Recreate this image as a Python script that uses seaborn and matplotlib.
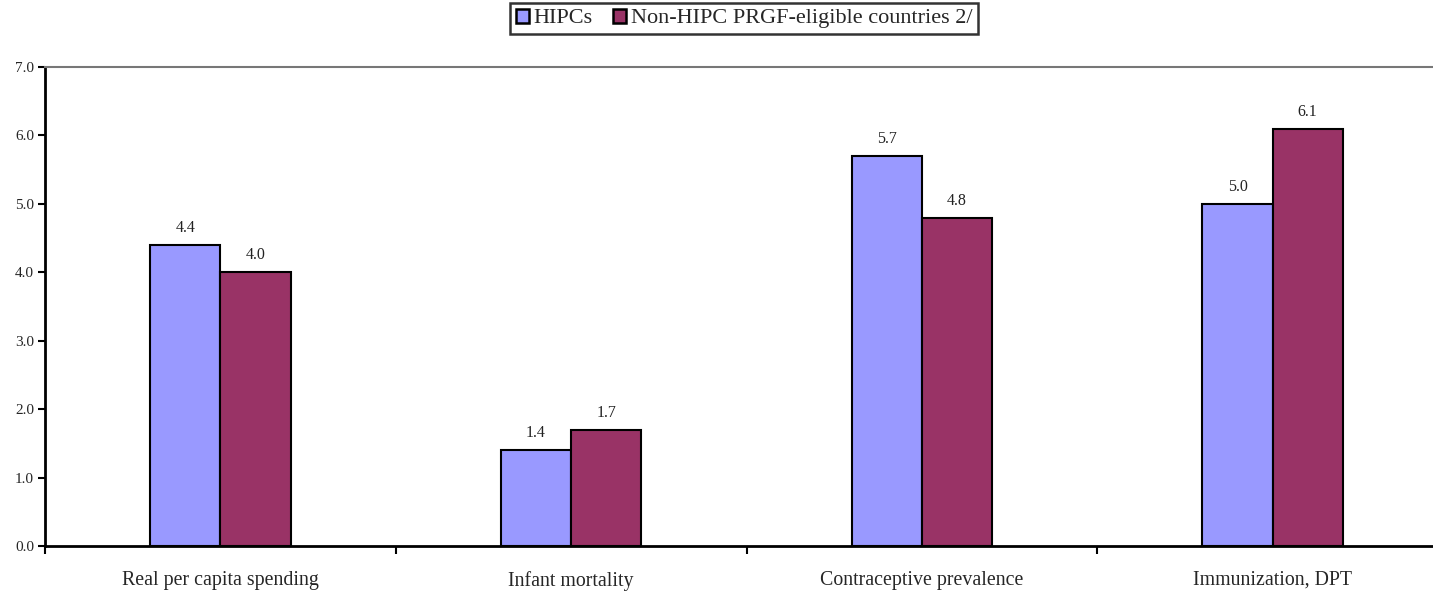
import matplotlib
matplotlib.use("Agg")
import matplotlib.pyplot as plt
import matplotlib.ticker as mticker
import seaborn as sns
import pandas as pd

categories = ["Real per capita spending", "Infant mortality",
              "Contraceptive prevalence", "Immunization, DPT"]
series_names = ["HIPCs", "Non-HIPC PRGF-eligible countries 2/"]
hipc_values = [4.4, 1.4, 5.7, 5.0]
non_hipc_values = [4.0, 1.7, 4.8, 6.1]
y_ticks = [0.0, 1.0, 2.0, 3.0, 4.0, 5.0, 6.0, 7.0]

colors = ["#9999FF", "#993366"]

df = pd.DataFrame({
    "category": categories * 2,
    "group": [series_names[0]] * len(categories) + [series_names[1]] * len(categories),
    "value": hipc_values + non_hipc_values,
})

sns.set_style("white")
plt.rcParams["font.family"] = ["Liberation Serif", "DejaVu Serif"]

fig = plt.figure(figsize=(14.33, 5.94), dpi=100)
ax = fig.add_axes([45 / 1433, 48 / 594, 1403 / 1433, 479 / 594])

sns.barplot(data=df, x="category", y="value", hue="group", order=categories,
            hue_order=series_names, palette=colors, width=0.4, saturation=1,
            edgecolor="black", linewidth=1.5, ax=ax, legend=True)

ax.set_xlim(-0.5, len(categories) - 0.5)
ax.set_ylim(y_ticks[0], y_ticks[-1])
ax.set_xlabel("")
ax.set_ylabel("")

# value labels above each bar
for cont in ax.containers:
    ax.bar_label(cont, fmt="%.1f", padding=6.5, fontsize=11.5, color="#222222")

# y axis
ax.set_yticks(y_ticks)
ax.yaxis.set_major_formatter(mticker.FormatStrFormatter("%.1f"))
ax.tick_params(axis="y", direction="out", length=5, width=1.5, labelsize=11,
               pad=3, left=True, color="black")

# x axis: tick marks between categories, labels at category centres
ax.set_xticks([i - 0.5 for i in range(len(categories) + 1)])
ax.set_xticklabels([])
ax.set_xticks(list(range(len(categories))), minor=True)
ax.set_xticklabels(categories, minor=True, fontsize=14.3)
ax.tick_params(axis="x", which="major", direction="out", length=6, width=1.5,
               bottom=True, color="black")
ax.tick_params(axis="x", which="minor", length=0, pad=18)

for side in ["left", "bottom"]:
    ax.spines[side].set_color("black")
    ax.spines[side].set_linewidth(2)
ax.spines["top"].set_color("#777777")
ax.spines["top"].set_linewidth(1.5)
ax.spines["right"].set_visible(False)

handles, labels = ax.get_legend_handles_labels()
ax.get_legend().remove()
leg = fig.legend(handles, labels, loc="upper center",
                 bbox_to_anchor=(744 / 1433, 1 - 3 / 594),
                 ncol=2, frameon=True, fontsize=16, handlelength=0.6,
                 handleheight=0.6, handletextpad=0.2, columnspacing=0.9,
                 borderpad=0.25, borderaxespad=0,
                 fancybox=False, edgecolor="black")
leg.get_frame().set_linewidth(1.8)
for h in leg.legend_handles:
    h.set_edgecolor("black")
    h.set_linewidth(1.8)

fig.savefig("out.png", dpi=100)
